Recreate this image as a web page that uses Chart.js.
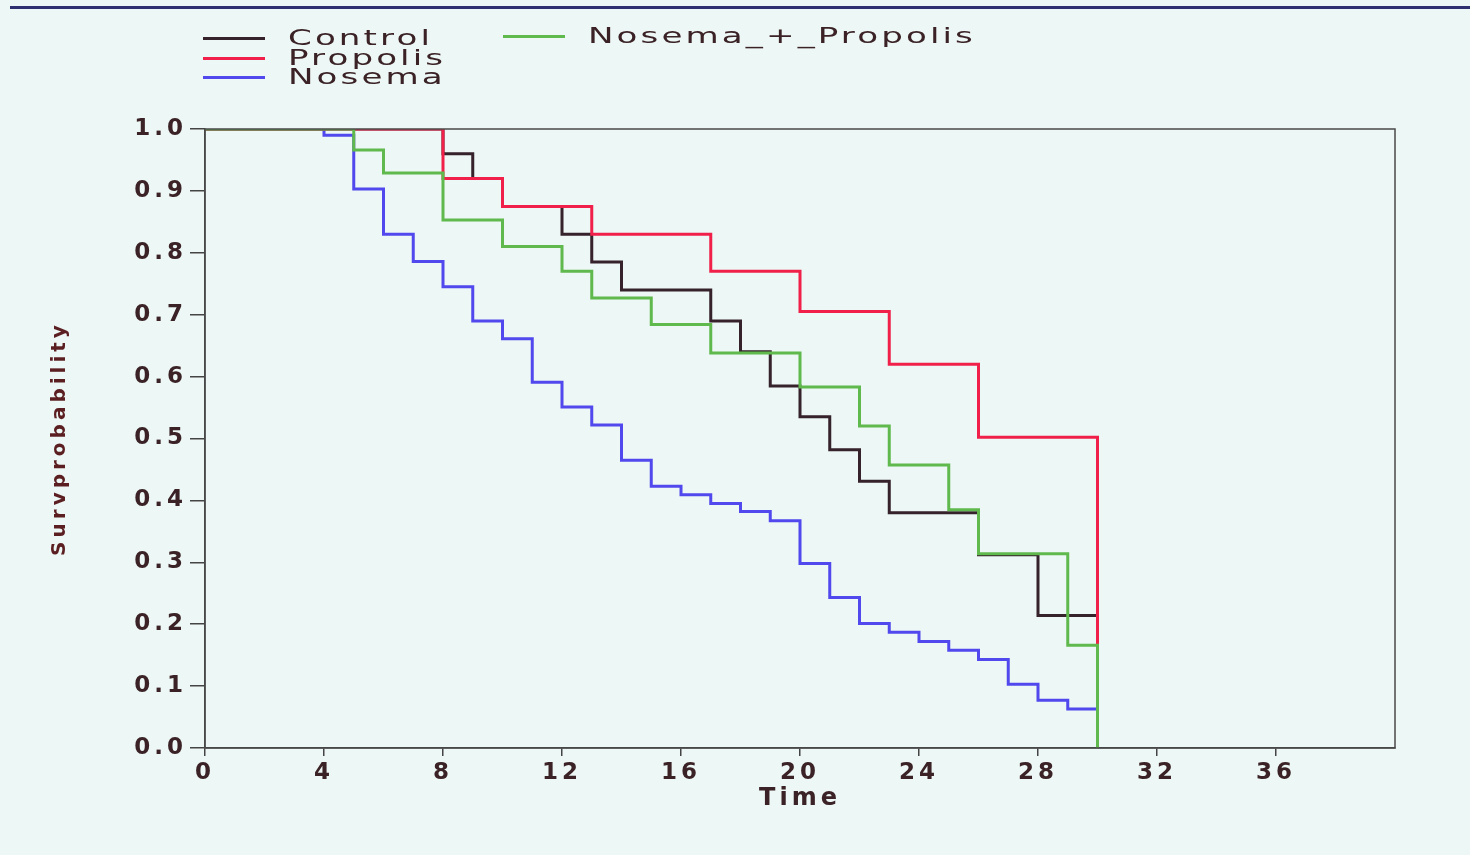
<!DOCTYPE html>
<html>
<head>
<meta charset="utf-8">
<title>Survival curves</title>
<script src="https://cdn.jsdelivr.net/npm/chart.js@4.4.1/dist/chart.umd.min.js"></script>
<style>
  body { margin: 0; background: #edf7f5; }
  #wrap { position: relative; width: 1470px; height: 855px; overflow: hidden; }
  #topLine { position: absolute; left: 10px; right: 0; top: 6px; height: 3px; background: #2e3070; }
  #legend { position: absolute; left: 0; top: 0; font-family: "DejaVu Sans", sans-serif; font-size: 22px; color: #3a2226; }
  .legend-item { position: absolute; white-space: nowrap; height: 20px; line-height: 20px; }
  .legend-item .swatch { position: absolute; left: 0; top: 9px; width: 62px; height: 3px; }
  .legend-item .label { position: absolute; left: 85px; top: 0; letter-spacing: 2px; transform: scaleX(1.55); transform-origin: left center; }
</style>
</head>
<body>
<div id="wrap">
  <div id="topLine"></div>
  <canvas id="survivalChart" width="1470" height="855"></canvas>
  <div id="legend"></div>
</div>
<script>
// Kaplan-Meier style survival (time in days)
const seriesNames = ['Control', 'Propolis', 'Nosema', 'Nosema_+_Propolis'];

const controlTimes = [0, 8, 9, 10, 12, 13, 14, 17, 18, 19, 20, 21, 22, 23, 26, 28, 30];
const controlSurv = [1.0, 0.96, 0.92, 0.875, 0.83, 0.785, 0.74, 0.69, 0.64, 0.585, 0.535, 0.482, 0.431, 0.38, 0.312, 0.214, 0];

const propolisTimes = [0, 8, 10, 13, 17, 20, 23, 26, 30];
const propolisSurv = [1.0, 0.92, 0.875, 0.83, 0.77, 0.705, 0.62, 0.502, 0];

const nosemaTimes = [0, 4, 5, 6, 7, 8, 9, 10, 11, 12, 13, 14, 15, 16, 17, 18, 19, 20, 21, 22, 23, 24, 25, 26, 27, 28, 29, 30];
const nosemaSurv = [1.0, 0.99, 0.903, 0.83, 0.786, 0.745, 0.69, 0.661, 0.591, 0.551, 0.522, 0.465, 0.423, 0.409, 0.395, 0.382, 0.367, 0.298, 0.243, 0.201, 0.187, 0.172, 0.158, 0.143, 0.103, 0.077, 0.063, 0];

const comboTimes = [0, 5, 6, 8, 10, 12, 13, 15, 17, 20, 22, 23, 25, 26, 29, 30];
const comboSurv = [1.0, 0.966, 0.929, 0.853, 0.81, 0.77, 0.727, 0.684, 0.638, 0.583, 0.52, 0.457, 0.385, 0.314, 0.166, 0];

const xTicks = [0, 4, 8, 12, 16, 20, 24, 28, 32, 36];
const yTicks = [0, 0.1, 0.2, 0.3, 0.4, 0.5, 0.6, 0.7, 0.8, 0.9, 1.0];

// colours + draw order (lower order ends up on top)
const lineColors = ['#35222a', '#f0204a', '#5149ee', '#5fb94c'];
const drawOrder = [2, 1, 3, 0];

function toPoints(times, surv) {
  return times.map(function (t, i) {
    return { x: t, y: surv[i] };
  });
}

const allData = [
  toPoints(controlTimes, controlSurv),
  toPoints(propolisTimes, propolisSurv),
  toPoints(nosemaTimes, nosemaSurv),
  toPoints(comboTimes, comboSurv)
];

// wide lettering like the original slide
const spacingPlugin = {
  id: 'spacing',
  beforeDraw: function (chart) {
    chart.ctx.letterSpacing = '4px';
  }
};

// full box round the plot area
const framePlugin = {
  id: 'frame',
  afterDraw: function (chart) {
    const a = chart.chartArea;
    const ctx = chart.ctx;
    ctx.save();
    ctx.strokeStyle = '#4a4a4a';
    ctx.lineWidth = 1.5;
    ctx.strokeRect(a.left, a.top, a.right - a.left, a.bottom - a.top);
    ctx.restore();
  }
};

const tickFont = { family: 'DejaVu Sans', size: 23, weight: 'bold' };

var ctx = document.getElementById('survivalChart').getContext('2d');
var survivalChart = new Chart(ctx, {
  type: 'line',
  data: {
    datasets: seriesNames.map(function (name, i) {
      return {
        label: name,
        data: allData[i],
        borderColor: lineColors[i],
        backgroundColor: lineColors[i],
        borderWidth: 3,
        pointRadius: 0,
        stepped: 'before',
        fill: false,
        order: drawOrder[i]
      };
    })
  },
  options: {
    responsive: false,
    animation: false,
    layout: {
      padding: { top: 129, right: 75, left: 0, bottom: 0 }
    },
    scales: {
      x: {
        type: 'linear',
        min: 0,
        max: 40,
        afterBuildTicks: function (scale) {
          scale.ticks = xTicks.map(function (v) { return { value: v }; });
        },
        afterFit: function (scale) {
          scale.height = 107;
        },
        ticks: {
          color: '#3a2226',
          font: tickFont,
          padding: 3,
          maxRotation: 0
        },
        grid: {
          drawOnChartArea: false,
          drawTicks: true,
          tickLength: 8,
          color: '#444',
          lineWidth: 1.5
        },
        border: { display: true, color: '#444', width: 1.5 },
        title: {
          display: true,
          text: 'Time',
          color: '#3a2226',
          font: { family: 'DejaVu Sans', size: 24, weight: 'bold' },
          padding: { top: 0, bottom: 42 }
        }
      },
      y: {
        min: 0,
        max: 1,
        afterBuildTicks: function (scale) {
          scale.ticks = yTicks.map(function (v) { return { value: v }; });
        },
        afterFit: function (scale) {
          scale.width = 205;
        },
        ticks: {
          color: '#3a2226',
          font: tickFont,
          padding: 3,
          callback: function (value) {
            return value.toFixed(1);
          }
        },
        grid: {
          drawOnChartArea: false,
          drawTicks: true,
          tickLength: 15,
          color: '#444',
          lineWidth: 1.5
        },
        border: { display: true, color: '#444', width: 1.5 },
        title: {
          display: true,
          text: 'Survprobability',
          color: '#5b1f22',
          font: { family: 'DejaVu Sans', size: 20, weight: 'bold' },
          padding: { top: 48, bottom: 0 }
        }
      }
    },
    plugins: {
      legend: { display: false },
      tooltip: { enabled: false }
    }
  },
  plugins: [spacingPlugin, framePlugin]
});

// html legend: three rows on the left, the combo series on its own to the right
const legendSpots = [
  { left: 203, top: 28 },
  { left: 203, top: 48 },
  { left: 203, top: 67 },
  { left: 503, top: 26 }
];

const legendBox = document.getElementById('legend');
seriesNames.forEach(function (name, i) {
  var item = document.createElement('div');
  item.className = 'legend-item';
  item.style.left = legendSpots[i].left + 'px';
  item.style.top = legendSpots[i].top + 'px';
  item.innerHTML = '<span class="swatch" style="background:' + lineColors[i] + '"></span>' +
    '<span class="label">' + name + '</span>';
  legendBox.appendChild(item);
});
</script>
</body>
</html>
